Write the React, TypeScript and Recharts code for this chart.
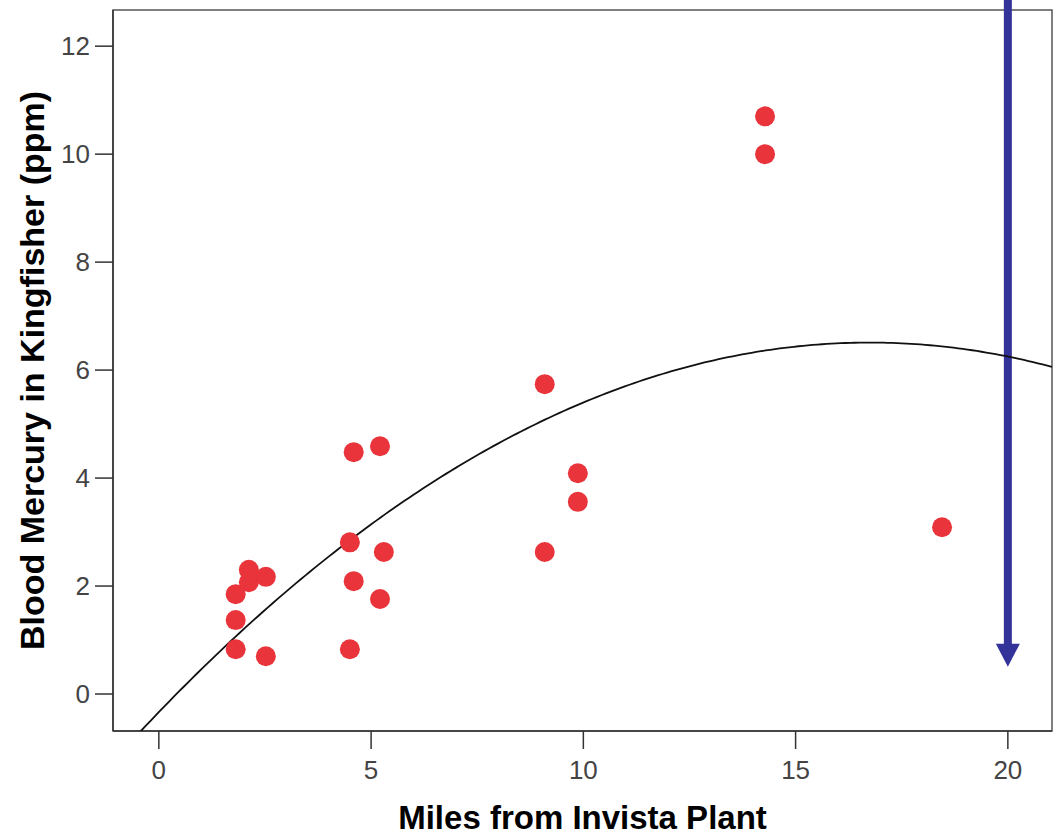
import React from "react";
import {
  ScatterChart,
  Scatter,
  XAxis,
  YAxis,
  ReferenceArea,
  ReferenceLine,
  ReferenceDot,
} from "recharts";

// Observed data: miles from plant vs blood mercury (ppm)
const miles = [
  2.12, 2.12, 2.52, 1.81, 1.81, 1.81, 2.52, 4.5, 5.3, 4.59, 5.21, 4.5, 4.59,
  5.21, 9.09, 9.09, 9.87, 9.87, 14.28, 14.28, 18.45,
];
const mercury = [
  2.3, 2.07, 2.17, 1.85, 1.37, 0.83, 0.7, 2.81, 2.63, 2.09, 1.76, 0.83, 4.48,
  4.59, 5.74, 2.63, 4.09, 3.56, 10.7, 10.0, 3.09,
];
const xTicks = [0, 5, 10, 15, 20];
const yTicks = [0, 2, 4, 6, 8, 10, 12];
const xDomain = [-1.08, 21.04];
const yDomain = [-0.685, 12.67];
const arrowX = 20;
const arrowTopY = 12.86;
const arrowHeadY = 0.93;

const points = miles.map((x, i) => ({ x, y: mercury[i] }));

// Quadratic least-squares fit of the observed data (fit line)
function quadFit(xs: number[], ys: number[]) {
  let s0 = 0, s1 = 0, s2 = 0, s3 = 0, s4 = 0, t0 = 0, t1 = 0, t2 = 0;
  xs.forEach((x, i) => {
    const y = ys[i];
    s0 += 1; s1 += x; s2 += x * x; s3 += x ** 3; s4 += x ** 4;
    t0 += y; t1 += x * y; t2 += x * x * y;
  });
  const A = [
    [s0, s1, s2, t0],
    [s1, s2, s3, t1],
    [s2, s3, s4, t2],
  ];
  for (let c = 0; c < 3; c++) {
    for (let r = c + 1; r < 3; r++) {
      const f = A[r][c] / A[c][c];
      for (let k = c; k < 4; k++) A[r][k] -= f * A[c][k];
    }
  }
  const b = [0, 0, 0];
  for (let r = 2; r >= 0; r--) {
    let s = A[r][3];
    for (let k = r + 1; k < 3; k++) s -= A[r][k] * b[k];
    b[r] = s / A[r][r];
  }
  return b;
}
const coef = quadFit(miles, mercury);
const fitLine: { x: number; y: number }[] = [];
for (let i = 0; i <= 200; i++) {
  const x = xDomain[0] + ((xDomain[1] - xDomain[0]) * i) / 200;
  fitLine.push({ x, y: coef[0] + coef[1] * x + coef[2] * x * x });
}

const FONT = "'Liberation Sans', Arial, sans-serif";

const Arrowhead = (props: any) => {
  const { cx, cy } = props;
  return (
    <polygon
      points={`${cx - 12},${cy} ${cx + 12},${cy} ${cx},${cy + 23}`}
      fill="#333399"
    />
  );
};

export default function App() {
  return (
    <div
      style={{
        position: "absolute",
        left: 0,
        top: 0,
        width: 1064,
        height: 835,
        background: "#fff",
      }}
    >
      <ScatterChart
        width={1064}
        height={835}
        margin={{ top: 10, right: 12, left: 0, bottom: 0 }}
      >
        <XAxis
          type="number"
          dataKey="x"
          domain={xDomain}
          allowDataOverflow
          ticks={xTicks}
          interval={0}
          height={104}
          tickSize={18}
          tickMargin={12}
          stroke="#333"
          strokeWidth={1.5}
          tick={{ fill: "#444", fontSize: 26, fontFamily: FONT }}
          label={{
            value: "Miles from Invista Plant",
            position: "insideBottom",
            offset: 6,
            style: {
              fontFamily: FONT,
              fontWeight: "bold",
              fontSize: 33,
              fill: "#000",
              textAnchor: "middle",
            },
          }}
        />
        <YAxis
          type="number"
          dataKey="y"
          domain={yDomain}
          allowDataOverflow
          ticks={yTicks}
          interval={0}
          width={113}
          tickSize={18}
          tickMargin={5}
          stroke="#333"
          strokeWidth={1.5}
          tick={{ fill: "#444", fontSize: 26, fontFamily: FONT }}
          label={{
            value: "Blood Mercury in Kingfisher (ppm)",
            angle: -90,
            position: "insideLeft",
            offset: 0,
            dx: 32,
            dy: 0,
            style: {
              fontFamily: FONT,
              fontWeight: "bold",
              fontSize: 34,
              fill: "#000",
              textAnchor: "middle",
            },
          }}
        />
        <ReferenceArea
          x1={xDomain[0]}
          x2={xDomain[1]}
          y1={yDomain[0]}
          y2={yDomain[1]}
          fill="none"
          stroke="#555"
          strokeWidth={1.5}
          ifOverflow="visible"
        />
        <Scatter
          data={fitLine}
          line={{ stroke: "#111", strokeWidth: 1.8 }}
          lineType="joint"
          shape={() => null}
          isAnimationActive={false}
        />
        <Scatter
          data={points}
          fill="#e8343a"
          shape={(p: any) => (
            <circle cx={p.cx} cy={p.cy} r={10} fill="#e8343a" />
          )}
          isAnimationActive={false}
        />
        <ReferenceLine
          segment={[
            { x: arrowX, y: arrowTopY },
            { x: arrowX, y: arrowHeadY - 0.05 },
          ]}
          stroke="#333399"
          strokeWidth={8}
          ifOverflow="visible"
        />
        <ReferenceDot
          x={arrowX}
          y={arrowHeadY}
          ifOverflow="visible"
          shape={Arrowhead}
        />
      </ScatterChart>
    </div>
  );
}
